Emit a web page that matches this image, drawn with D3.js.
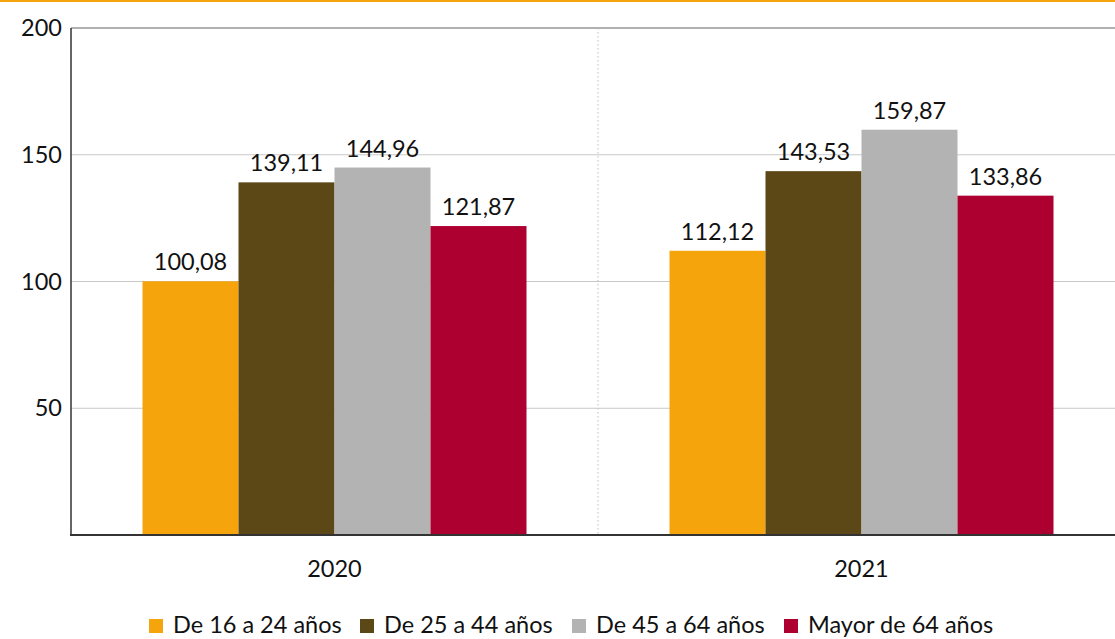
<!DOCTYPE html>
<html><head><meta charset="utf-8">
<script src="https://cdn.jsdelivr.net/npm/d3@7"></script>
<style>body{margin:0;background:#fff}svg{display:block}text{font-family:Lato, "Open Sans", sans-serif;fill:#111}</style>
</head><body>
<script>
const years = ["2020", "2021"];
const seriesNames = ["De 16 a 24 años", "De 25 a 44 años", "De 45 a 64 años", "Mayor de 64 años"];
const seriesColors = ["#f5a40c", "#5c4816", "#b3b3b3", "#ad0030"];
const values2020 = [100.08, 139.11, 144.96, 121.87];
const values2021 = [112.12, 143.53, 159.87, 133.86];
const yTicks = [50, 100, 150, 200];

const W = 1115, H = 639;
const FS = 23.5;
const svg = d3.select("body").append("svg").attr("width", W).attr("height", H);
svg.append("rect").attr("x",0).attr("y",0).attr("width",W).attr("height",2).attr("fill","#f5a40c");

const x0 = d3.scaleBand().domain(years).range([71, 1125]);
const y = d3.scaleLinear().domain([0, 200]).range([535, 28]);
const barW = 96;
const x1 = d3.scaleBand().domain(seriesNames).range([0, barW*4]);

yTicks.forEach(t => {
  svg.append("line").attr("x1", 71).attr("x2", W).attr("y1", y(t)).attr("y2", y(t))
    .attr("stroke", t===200 ? "#b0b0b0" : "#c8c8c8").attr("stroke-width", t===200 ? 2 : 1);
});
svg.append("line").attr("x1", x0("2021")).attr("x2", x0("2021")).attr("y1", 28).attr("y2", 535)
  .attr("stroke", "#bdbdbd").attr("stroke-width", 1).attr("stroke-dasharray", "1.5,2.5");

const data = years.map((yr, i) => ({year: yr, vals: i===0 ? values2020 : values2021}));
const fmt = v => d3.format(".2f")(v).replace(".", ",");

data.forEach(d => {
  const start = x0(d.year) + (x0.bandwidth() - barW*4)/2;
  d.vals.forEach((v, j) => {
    const bx = start + x1(seriesNames[j]);
    svg.append("rect").attr("x", bx).attr("y", y(v)).attr("width", x1.bandwidth()).attr("height", y(0)-y(v))
      .attr("fill", seriesColors[j]);
    svg.append("text").attr("x", bx + x1.bandwidth()/2).attr("y", y(v) - 11).attr("text-anchor","middle")
      .attr("font-size", FS).text(fmt(v));
  });
  svg.append("text").attr("x", x0(d.year) + x0.bandwidth()/2).attr("y", 577).attr("text-anchor","middle")
    .attr("font-size", FS).text(d.year);
});

svg.append("line").attr("x1", 71).attr("x2", 71).attr("y1", 28).attr("y2", 536).attr("stroke", "#333").attr("stroke-width", 1.5);
svg.append("line").attr("x1", 70).attr("x2", W).attr("y1", 535).attr("y2", 535).attr("stroke", "#333").attr("stroke-width", 2);

yTicks.forEach(t => {
  svg.append("text").attr("x", 62).attr("y", y(t) + 8).attr("text-anchor","end").attr("font-size", FS).text(t);
});

const legX = [149, 360, 572, 784];
seriesNames.forEach((n, i) => {
  svg.append("rect").attr("x", legX[i]).attr("y", 619).attr("width", 14).attr("height", 14).attr("fill", seriesColors[i]);
  svg.append("text").attr("x", legX[i] + 24).attr("y", 633).attr("font-size", FS).text(n);
});
</script>
</body></html>
